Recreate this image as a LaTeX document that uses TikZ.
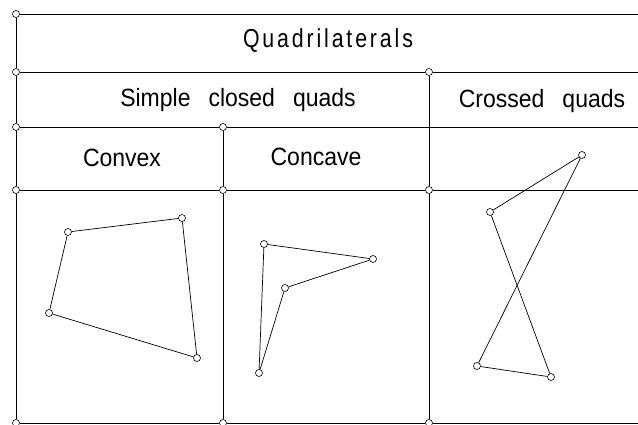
\documentclass[tikz,border=0pt]{standalone}
\usepackage{fontspec}
\setmainfont{Liberation Sans}
\newfontfamily\titlefont[LetterSpace=11,FakeStretch=0.82]{Liberation Sans}
\newfontfamily\rowfont[FakeStretch=0.92]{Liberation Sans}
\tikzset{
  pt/.style={circle, draw, fill=white, inner sep=0pt, minimum size=7pt, line width=0.6pt},
  ln/.style={line width=0.8pt},
  edge/.style={line width=0.7pt},
  ttl/.style={font=\titlefont\fontsize{26}{30}\selectfont, inner sep=0pt, anchor=base},
  lbl/.style={font=\rowfont\fontsize{25}{30}\selectfont, inner sep=0pt, anchor=base}
}
\newcommand{\wsp}{\hspace{18pt}}
\begin{document}
\begin{tikzpicture}[x=1pt,y=-1pt]
\useasboundingbox (0,0) rectangle (638,425);
% grid junctions
\node[pt] (L0) at (16,14) {};
\node[pt] (L1) at (16,72) {};
\node[pt] (L2) at (16,127) {};
\node[pt] (L3) at (16,190) {};
\node[pt] (L4) at (16,423) {};
\node[pt] (M2) at (223,127) {};
\node[pt] (M3) at (223,190) {};
\node[pt] (M4) at (223,423) {};
\node[pt] (R1) at (429,72) {};
\node[pt] (R3) at (429,190) {};
\node[pt] (R4) at (429,423) {};
\coordinate (E0) at (638,14);
\coordinate (E1) at (638,72);
\coordinate (E2) at (638,127);
\coordinate (E3) at (638,190);
\coordinate (E4) at (638,423);
% grid lines
\draw[ln] (L0) -- (L1);
\draw[ln] (L1) -- (L2);
\draw[ln] (L2) -- (L3);
\draw[ln] (L3) -- (L4);
\draw[ln] (M2) -- (M3);
\draw[ln] (M3) -- (M4);
\draw[ln] (R1) -- (R3);
\draw[ln] (R3) -- (R4);
\draw[ln] (L0) -- (E0);
\draw[ln] (L1) -- (R1);
\draw[ln] (R1) -- (E1);
\draw[ln] (L2) -- (M2);
\draw[ln] (M2) -- (E2);
\draw[ln] (L3) -- (M3);
\draw[ln] (M3) -- (R3);
\draw[ln] (R3) -- (E3);
\draw[ln] (L4) -- (M4);
\draw[ln] (M4) -- (R4);
\draw[ln] (R4) -- (E4);
% labels
\node[ttl] (tq) at (328,48) {Quadrilaterals};
\node[lbl] (ts) at (238,107) {Simple\wsp closed\wsp quads};
\node[lbl] (tc) at (542,108) {Crossed\wsp quads};
\node[lbl] (tv) at (122,167) {Convex};
\node[lbl] (tk) at (316,166) {Concave};
% convex quad
\node[pt] (a1) at (68,232) {};
\node[pt] (a2) at (182,218) {};
\node[pt] (a3) at (197,358) {};
\node[pt] (a4) at (49,313) {};
\draw[edge] (a1) -- (a2);
\draw[edge] (a2) -- (a3);
\draw[edge] (a3) -- (a4);
\draw[edge] (a4) -- (a1);
% concave quad
\node[pt] (b1) at (264,244) {};
\node[pt] (b2) at (373,259) {};
\node[pt] (b3) at (285,288) {};
\node[pt] (b4) at (259,373) {};
\draw[edge] (b1) -- (b2);
\draw[edge] (b2) -- (b3);
\draw[edge] (b3) -- (b4);
\draw[edge] (b4) -- (b1);
% crossed quad
\node[pt] (c1) at (490,212) {};
\node[pt] (c2) at (582,155) {};
\node[pt] (c3) at (477,366) {};
\node[pt] (c4) at (551,377) {};
\draw[edge] (c1) -- (c2);
\draw[edge] (c2) -- (c3);
\draw[edge] (c3) -- (c4);
\draw[edge] (c4) -- (c1);
\end{tikzpicture}
\end{document}
